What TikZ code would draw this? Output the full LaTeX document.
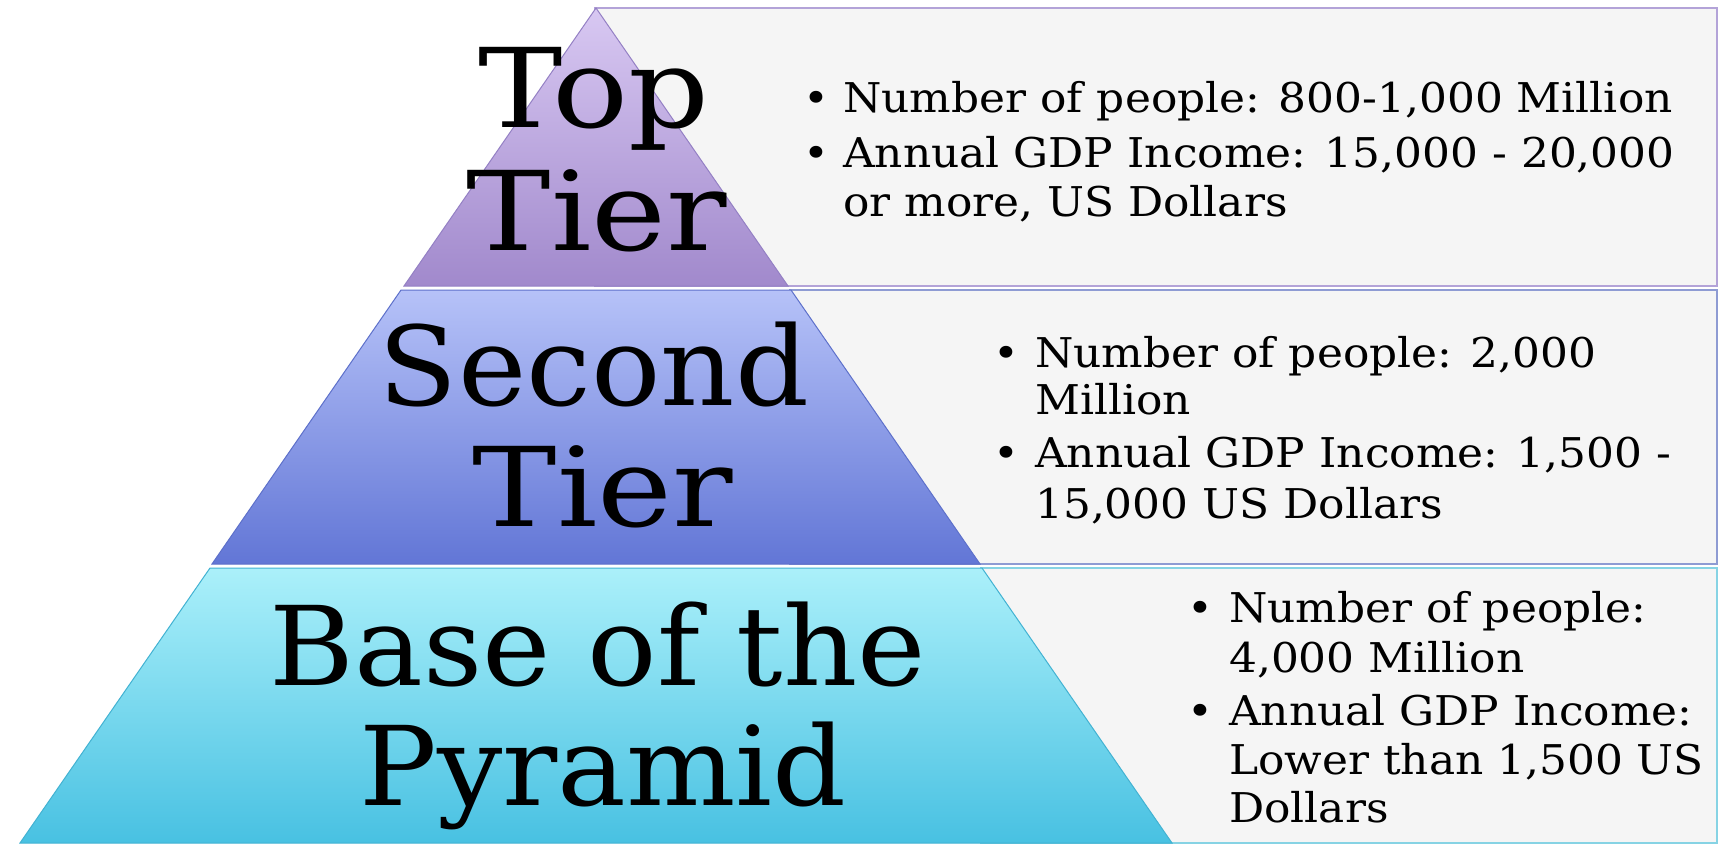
\documentclass[tikz,border=0pt]{standalone}
\usepackage{fontspec}
\setmainfont{DejaVu Serif}
\newfontfamily\tierfont[FakeStretch=1.05]{DejaVu Serif}
\newfontfamily\tierwide[FakeStretch=1.15]{DejaVu Serif}
\newfontfamily\infofont[FakeStretch=1.07]{DejaVu Serif}

\definecolor{topA}{HTML}{D8C8F2}
\definecolor{topB}{HTML}{A189CC}
\definecolor{topline}{HTML}{9480C4}
\definecolor{secA}{HTML}{B6C2F8}
\definecolor{secB}{HTML}{6276D6}
\definecolor{secline}{HTML}{5D70CA}
\definecolor{baseA}{HTML}{ABF0FA}
\definecolor{baseB}{HTML}{48C1E2}
\definecolor{baseline}{HTML}{42B2D2}
\definecolor{topedge}{HTML}{B3A3D8}
\definecolor{secedge}{HTML}{8E9BD3}
\definecolor{baseedge}{HTML}{86D3E4}
\definecolor{panel}{HTML}{F5F5F5}

\begin{document}
\begin{tikzpicture}[x=1pt,y=-1pt,
  infobox/.style={fill=panel,line width=2pt},
  band/.style={line width=1pt},
  tierlabel/.style={anchor=base,inner sep=0pt,text=black,
    font=\tierfont\fontsize{110}{130}\selectfont},
  tiershort/.style={tierlabel,font=\tierwide\fontsize{110}{130}\selectfont},
  infoline/.style={anchor=base west,inner sep=0pt,
    font=\infofont\fontsize{41}{48}\selectfont},
  infodot/.style={anchor=base,inner sep=0pt,
    font=\infofont\fontsize{41}{48}\selectfont}]
\useasboundingbox (0,0) rectangle (1718,846);
\fill[white] (0,0) rectangle (1718,846);

% information panels behind the pyramid
\draw[infobox,draw=topedge]  (595,8)   rectangle (1717,286);
\draw[infobox,draw=secedge]  (790,290) rectangle (1717,564);
\draw[infobox,draw=baseedge] (981,568) rectangle (1717,843);

% pyramid bands
\shadedraw[band,top color=topA,bottom color=topB,draw=topline]
  (596,8) -- (788,286) -- (404,286) -- cycle;
\shadedraw[band,top color=secA,bottom color=secB,draw=secline]
  (401,290) -- (791,290) -- (980,564) -- (212,564) -- cycle;
\shadedraw[band,top color=baseA,bottom color=baseB,draw=baseline]
  (210,568) -- (982,568) -- (1172,843) -- (20,843) -- cycle;

% tier names
\node[tiershort] (top1) at (594,127) {Top};
\node[tiershort] (top2) at (597,250) {Tier};
\node[tierlabel] (sec1) at (594,405) {Second};
\node[tiershort] (sec2) at (603,526) {Tier};
\node[tierlabel] (bas1) at (598,685) {Base of the};
\node[tierlabel] (bas2) at (603,805) {Pyramid};

% top tier facts
\node[infodot]  (ab1) at (816,112) {•};
\node[infoline] (a1)  at (843,112) {Number of people: 800-1,000 Million};
\node[infodot]  (ab2) at (816,167) {•};
\node[infoline] (a2)  at (843,167) {Annual GDP Income: 15,000 - 20,000};
\node[infoline] (a3)  at (843,216) {or more, US Dollars};

% second tier facts
\node[infodot]  (bb1) at (1006,367) {•};
\node[infoline] (b1)  at (1035,367) {Number of people: 2,000};
\node[infoline] (b2)  at (1035,414) {Million};
\node[infodot]  (bb2) at (1006,467) {•};
\node[infoline] (b3)  at (1035,467) {Annual GDP Income: 1,500 -};
\node[infoline] (b4)  at (1035,518) {15,000 US Dollars};

% base tier facts
\node[infodot]  (cb1) at (1200,622) {•};
\node[infoline] (c1)  at (1229,622) {Number of people:};
\node[infoline] (c2)  at (1229,672) {4,000 Million};
\node[infodot]  (cb2) at (1200,725) {•};
\node[infoline] (c3)  at (1229,725) {Annual GDP Income:};
\node[infoline] (c4)  at (1229,774) {Lower than 1,500 US};
\node[infoline] (c5)  at (1229,822) {Dollars};
\end{tikzpicture}
\end{document}
